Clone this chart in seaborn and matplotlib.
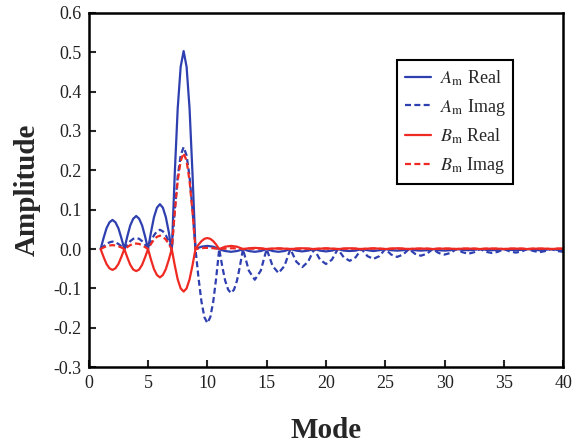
import numpy as np
import pandas as pd
import seaborn as sns
import matplotlib.pyplot as plt
from matplotlib.ticker import FormatStrFormatter

# --- data: amplitudes ---
# quarter-mode steps up to mode 13 (large lobes), half-mode steps after
mode = np.concatenate([np.arange(1, 13, 0.25), np.arange(13, 40.5, 0.5)])

a_real = [
    0, .028, .053, .068, .074, .068, .053, .028,
    0, .032, .060, .077, .084, .077, .060, .032,
    0, .043, .081, .105, .114, .105, .081, .043,
    -.008, .19, .357, .463, .503, .463, .357, .19,
    0, .003, .006, .007, .008, .007, .006, .003,
    0, -.003, -.005, -.006, -.007, -.006, -.005, -.003,
    0, -.005, -.007, -.005,
    0, -.005, -.007, -.005,
    0, -.004, -.006, -.004,
    0, -.004, -.006, -.004,
    0, -.004, -.005, -.004,
    0, -.003, -.005, -.003,
    0, -.003, -.004, -.003,
    0, -.003, -.004, -.003,
    0, -.003, -.004, -.003,
    0, -.002, -.003, -.002,
    0, -.002, -.003, -.002,
    0, -.002, -.003, -.002,
    0, -.002, -.003, -.002,
    0, -.002, -.002,
]

a_imag = [
    0, .007, .013, .017, .019, .017, .013, .007,
    0, .011, .020, .026, .028, .026, .020, .011,
    0, .019, .035, .045, .049, .045, .035, .019,
    0, .098, .184, .238, .259, .238, .184, .098,
    0, -.072, -.133, -.173, -.188, -.173, -.133, -.072,
    0, -.043, -.080, -.103, -.112, -.103, -.080, -.043,
    0, -.055, -.078, -.055,
    0, -.043, -.061, -.043,
    0, -.032, -.046, -.032,
    0, -.027, -.038, -.027,
    0, -.021, -.030, -.021,
    0, -.018, -.025, -.018,
    0, -.014, -.020, -.014,
    0, -.012, -.017, -.012,
    0, -.010, -.014, -.010,
    0, -.008, -.012, -.008,
    0, -.007, -.010, -.007,
    0, -.006, -.009, -.006,
    0, -.005, -.008, -.005,
    0, -.005, -.007,
]

b_real = [
    0, -.020, -.038, -.049, -.053, -.049, -.038, -.020,
    0, -.021, -.040, -.052, -.056, -.052, -.040, -.021,
    0, -.027, -.051, -.066, -.072, -.066, -.051, -.027,
    0, -.041, -.077, -.100, -.108, -.100, -.077, -.041,
    0, .011, .020, .026, .028, .026, .020, .011,
    0, .003, .006, .007, .008, .007, .006, .003,
    0, .002, .003, .002,
    0, .001, .002, .001,
    0, .001, .002, .001,
    0, .001, .002, .001,
    0, .001, .002, .001,
    0, .001, .002, .001,
    0, .001, .002, .001,
    0, .001, .001, .001,
    0, .001, .001, .001,
    0, .001, .001, .001,
    0, .001, .001, .001,
    0, .001, .001, .001,
    0, .001, .001, .001,
    0, .001, .001,
]

b_imag = [
    0, .004, .007, .009, .010, .009, .007, .004,
    0, .005, .010, .013, .014, .013, .010, .005,
    0, .013, .024, .031, .034, .031, .024, .013,
    0, .093, .173, .224, .244, .224, .173, .093,
    0, .001, .002, .003, .003, .003, .002, .001,
    0, .001, .001, .002, .002, .002, .001, .001,
    0, .001, .001, .001,
    0, .001, .001, .001,
    0, .001, .001, .001,
    0, .001, .001, .001,
    0, .001, .001, .001,
    0, .001, .001, .001,
    0, .001, .001, .001,
    0, .001, .001, .001,
    0, .001, .001, .001,
    0, .001, .001, .001,
    0, .001, .001, .001,
    0, .001, .001, .001,
    0, .001, .001, .001,
    0, .001, .001,
]

series_names = [r'$A_\mathrm{m}$ Real', r'$A_\mathrm{m}$ Imag',
                r'$B_\mathrm{m}$ Real', r'$B_\mathrm{m}$ Imag']
blue, red = '#2e3fb0', '#ee2a22'

df = pd.DataFrame({
    'Mode': np.tile(mode, 4),
    'Amplitude': np.concatenate([a_real, a_imag, b_real, b_imag]),
    'Series': np.repeat(series_names, len(mode)),
})

# --- style ---
sns.set_style('ticks')
plt.rcParams['font.family'] = ['Liberation Serif', 'DejaVu Serif']
plt.rcParams['mathtext.fontset'] = 'stix'

fig = plt.figure(figsize=(5.8, 4.45), dpi=100)
ax = fig.add_axes([0.153, 0.175, 0.818, 0.796])

sns.lineplot(
    data=df, x='Mode', y='Amplitude',
    hue='Series', style='Series', hue_order=series_names, style_order=series_names,
    palette=dict(zip(series_names, [blue, blue, red, red])),
    dashes=dict(zip(series_names, ['', (2.7, 1.5), '', (2.7, 1.5)])),
    linewidth=1.6, sort=False, ax=ax,
)

ax.set_xlim(0, 40)
ax.set_ylim(-0.3, 0.6)
ax.set_xticks(np.arange(0, 41, 5))
ax.set_yticks(np.arange(-0.3, 0.61, 0.1))
ax.yaxis.set_major_formatter(FormatStrFormatter('%.1f'))
ax.tick_params(direction='in', length=5, width=1.5, top=False, right=False,
               labelsize=13, labelcolor='#222222', pad=5)
ax.tick_params(axis='x', pad=6)
for s in ax.spines.values():
    s.set_linewidth(1.8)
    s.set_color('black')

ax.set_xlabel('Mode', fontsize=21, fontweight='bold', labelpad=18)
ax.set_ylabel('Amplitude', fontsize=21, fontweight='bold', labelpad=9)

leg = ax.legend(loc='upper left', bbox_to_anchor=(0.65, 0.867), frameon=True,
                fancybox=False, edgecolor='black', framealpha=1, fontsize=13,
                handlelength=1.4, handletextpad=0.5, labelspacing=0.5,
                borderpad=0.45, borderaxespad=0)
leg.get_frame().set_linewidth(1.5)

fig.savefig('out.png', dpi=100)
